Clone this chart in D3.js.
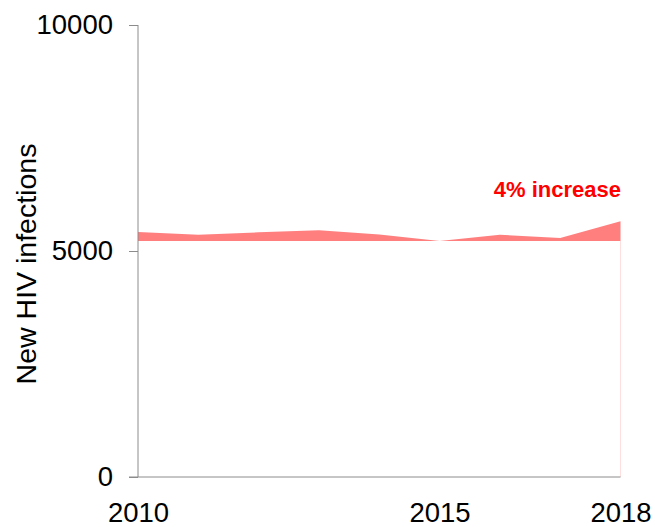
<!DOCTYPE html>
<html>
<head>
<meta charset="utf-8">
<script src="https://cdn.jsdelivr.net/npm/d3@7"></script>
<style>
  html, body { margin: 0; padding: 0; background: #fff; }
  svg { display: block; font-family: "Liberation Sans", Arial, sans-serif; }
</style>
</head>
<body>
<svg id="chart" width="655" height="527"></svg>
<script>
const years = [2010, 2011, 2012, 2013, 2014, 2015, 2016, 2017, 2018];
const infections = [5420, 5360, 5414, 5458, 5365, 5221, 5361, 5288, 5657];
const yTicks = [0, 5000, 10000];
const xTicks = [2010, 2015, 2018];
const yLabel = "New HIV infections";
const note = "4% increase";

const svg = d3.select("#chart");
const x = d3.scaleLinear().domain([2010, 2018]).range([138, 620.5]);
const y = d3.scaleLinear().domain([0, 10000]).range([477, 25]);
const baseline = d3.min(infections);
const data = years.map((yr, i) => ({ yr, v: infections[i] }));

// faint boundary at the last year down to zero
svg.append("line")
  .attr("x1", x(2018)).attr("x2", x(2018))
  .attr("y1", y(baseline)).attr("y2", y(0))
  .attr("stroke", "#ffdede").attr("stroke-width", 1);

// area between series and its minimum
svg.append("path")
  .datum(data)
  .attr("fill", "#ff7f7f")
  .attr("d", d3.area().x(d => x(d.yr)).y0(y(baseline)).y1(d => y(d.v)));

// y axis
const yAxis = svg.append("g").attr("transform", `translate(${x(2010)},0)`)
  .call(d3.axisLeft(y).tickValues(yTicks).tickSize(9).tickPadding(16).tickFormat(d3.format("d")));
yAxis.select(".domain").attr("stroke", "#8c8c8c").attr("d", `M0,${y(10000)}V${y(0)}`);
yAxis.selectAll(".tick line").attr("stroke", "#8c8c8c");
yAxis.selectAll(".tick text").attr("font-size", 27.5).attr("fill", "#000")
  .attr("font-family", "Liberation Sans, Arial, sans-serif");

// x axis
const xAxis = svg.append("g").attr("transform", `translate(0,${y(0)})`)
  .call(d3.axisBottom(x).tickValues(xTicks).tickSize(0).tickPadding(25).tickFormat(d3.format("d")));
xAxis.select(".domain").attr("stroke", "#8c8c8c").attr("d", `M129,0H${x(2018)}`);
xAxis.selectAll(".tick text").attr("font-size", 27.5).attr("fill", "#000")
  .attr("font-family", "Liberation Sans, Arial, sans-serif");

// y label
svg.append("text")
  .attr("transform", "translate(36,264) rotate(-90)")
  .attr("text-anchor", "middle")
  .attr("font-size", 28.5)
  .attr("fill", "#000")
  .text(yLabel);

// annotation
svg.append("text")
  .attr("x", 621).attr("y", 197)
  .attr("text-anchor", "end")
  .attr("font-size", 22)
  .attr("font-weight", "bold")
  .attr("fill", "#ff0000")
  .text(note);
</script>
</body>
</html>
